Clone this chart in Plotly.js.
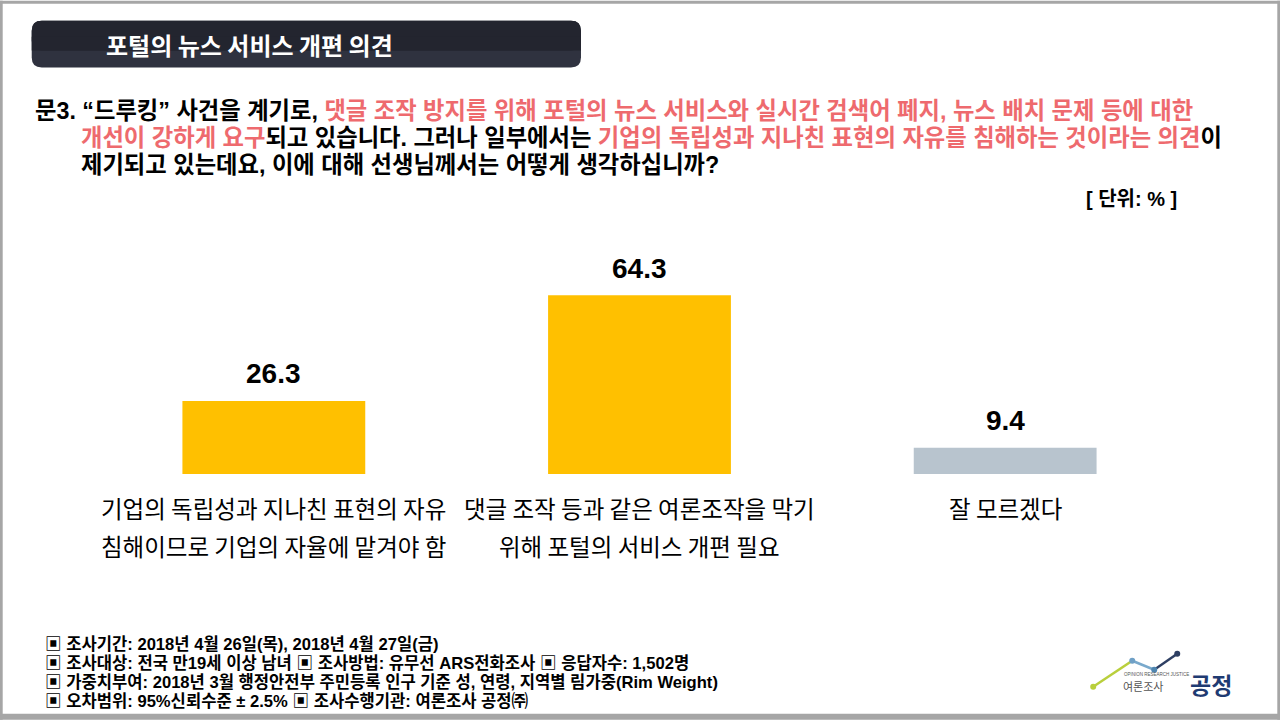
<!DOCTYPE html>
<html><head><meta charset="utf-8">
<script src="https://cdn.plot.ly/plotly-3.0.1.min.js"></script>
<style>html,body{margin:0;padding:0;background:#fff}#chart{width:1280px;height:720px}</style>
</head><body><div id="chart"></div>
<script>
// ---- data ----
const categories = ['기업의 독립성과 지나친 표현의 자유<br>침해이므로 기업의 자율에 맡겨야 함', '댓글 조작 등과 같은 여론조작을 막기<br>위해 포털의 서비스 개편 필요', '잘 모르겠다'];
const values = [26.3, 64.3, 9.4];
const barColors = ['#FFC000', '#FFC000', '#B8C4CE'];
const chartTitle = '포털의 뉴스 서비스 개편 의견';
const unitLabel = '[ 단위: % ]';
const questionLines = [
  [['k','문3. “드루킹” 사건을 계기로, '], ['r','댓글 조작 방지를 위해 포털의 뉴스 서비스와 실시간 검색어 폐지, 뉴스 배치 문제 등에 대한']],
  [['r','개선이 강하게 요구'], ['k','되고 있습니다. 그러나 일부에서는 '], ['r','기업의 독립성과 지나친 표현의 자유를 침해하는 것이라는 의견'], ['k','이']],
  [['k','제기되고 있는데요, 이에 대해 선생님께서는 어떻게 생각하십니까?']]
];
const footerLines = [
  '▣ 조사기간: 2018년 4월 26일(목), 2018년 4월 27일(금)',
  '▣ 조사대상: 전국 만19세 이상 남녀 ▣ 조사방법: 유무선 ARS전화조사 ▣ 응답자수: 1,502명',
  '▣ 가중치부여: 2018년 3월 행정안전부 주민등록 인구 기준 성, 연령, 지역별 림가중(Rim Weight)',
  '▣ 오차범위: 95%신뢰수준 ± 2.5% ▣ 조사수행기관: 여론조사 공정㈜'
];

// ---- geometry helpers (pixel -> paper) ----
const W = 1280, H = 720;
const L = 91.25, R = 1187.75, T = 195.6, B = 474;
const px = x => (x - L) / (R - L);
const py = y => (B - y) / (B - T);
const KR = '"Noto Sans CJK KR", "Noto Sans", sans-serif';
const MIX = '"Liberation Sans", "Noto Sans CJK KR", sans-serif';

const shapes = [];
const annotations = [];

// frame
const frameCol = '#A6A6A6';
[[0,0,W,3],[0,0,3,H],[W-3,0,W,H],[0,H-6,W,H]].forEach(r => shapes.push({type:'rect', xref:'paper', yref:'paper', x0:px(r[0]), x1:px(r[2]), y0:py(r[3]), y1:py(r[1]), fillcolor:frameCol, line:{width:0}, layer:'above'}));

// title box (rounded, two-tone to suggest the gradient)
function roundRect(x0,y0,x1,y1,r){
  const p = (x,y)=> px(x)+','+py(y);
  return 'M'+p(x0+r,y0)+' L'+p(x1-r,y0)+' Q'+p(x1,y0)+' '+p(x1,y0+r)+' L'+p(x1,y1-r)+' Q'+p(x1,y1)+' '+p(x1-r,y1)+' L'+p(x0+r,y1)+' Q'+p(x0,y1)+' '+p(x0,y1-r)+' L'+p(x0,y0+r)+' Q'+p(x0,y0)+' '+p(x0+r,y0)+' Z';
}
shapes.push({type:'path', xref:'paper', yref:'paper', path:roundRect(32,20,581,67,10), fillcolor:'#2F323F', line:{width:0}});
shapes.push({type:'path', xref:'paper', yref:'paper', path:roundRect(32,20,581,50,10), fillcolor:'#23252F', line:{width:0}});
shapes.push({type:'rect', xref:'paper', yref:'paper', x0:px(32), x1:px(581), y0:py(50), y1:py(36), fillcolor:'#23252F', line:{width:0}});
annotations.push({xref:'paper', yref:'paper', x:px(250), y:py(44), xanchor:'center', yanchor:'middle', showarrow:false, text:'<b>'+chartTitle+'</b>', font:{family:KR, size:24, color:'#FFFFFF'}});

// question
const qColors = {k:'#000000', r:'#EE6A6E'};
const qY = [110, 137.5, 165];
const qX = [33, 79, 79];
questionLines.forEach((segs,i)=>{
  const txt = segs.map(s=>'<span style="color:'+qColors[s[0]]+'">'+s[1]+'</span>').join('');
  annotations.push({xref:'paper', yref:'paper', x:px(qX[i]), y:py(qY[i]), xanchor:'left', yanchor:'middle', showarrow:false, text:'<b>'+txt+'</b>', font:{family:MIX, size:23.3, color:'#000'}});
});

// unit
annotations.push({xref:'paper', yref:'paper', x:px(1179), y:py(199), xanchor:'right', yanchor:'middle', showarrow:false, text:'<b>'+unitLabel+'</b>', font:{family:MIX, size:20, color:'#000'}});

// value labels
values.forEach((v,i)=>{
  annotations.push({xref:'x', yref:'y', x:categories[i], y:v, xanchor:'center', yanchor:'middle', yshift:27, showarrow:false, text:'<b>'+v.toFixed(1)+'</b>', font:{family:'"Liberation Sans", Arial, sans-serif', size:28, color:'#000'}});
});

// category labels (two lines each)
categories.forEach((c,i)=>{
  c.split('<br>').forEach((line,j)=>{
    annotations.push({xref:'x', yref:'paper', x:c, y:py(508 + j*38), xanchor:'center', yanchor:'middle', showarrow:false, text:line, font:{family:KR, size:23.5, color:'#000'}});
  });
});

// footer
footerLines.forEach((t,i)=>{
  annotations.push({xref:'paper', yref:'paper', x:px(43), y:py(645 + i*18.8), xanchor:'left', yanchor:'middle', showarrow:false, text:'<b>'+t+'</b>', font:{family:MIX, size:16.6, color:'#000'}});
});

// logo
const lp = [[1093,687],[1132,661],[1154,670],[1177,654]];
const lc = ['#B9CF3C','#79A9CC','#2E3F63'];
for (let i=0;i<3;i++){
  shapes.push({type:'line', xref:'paper', yref:'paper', x0:px(lp[i][0]), y0:py(lp[i][1]), x1:px(lp[i+1][0]), y1:py(lp[i+1][1]), line:{color:lc[i], width:2.5}});
}
const dc = ['#B9CF3C','#6FA0C6','#4F86B0','#2E3F63'];
lp.forEach((p,i)=>{
  shapes.push({type:'circle', xref:'paper', yref:'paper', x0:px(p[0]-3), x1:px(p[0]+3), y0:py(p[1]+3), y1:py(p[1]-3), fillcolor:dc[i], line:{width:0}});
});
annotations.push({xref:'paper', yref:'paper', x:px(1122), y:py(675), xanchor:'left', yanchor:'middle', showarrow:false, text:'OPINION RESEARCH JUSTICE', font:{family:'"Liberation Sans", Arial', size:4.5, color:'#555'}});
annotations.push({xref:'paper', yref:'paper', x:px(1121), y:py(686), xanchor:'left', yanchor:'middle', showarrow:false, text:'여론조사', font:{family:KR, size:11, color:'#555'}});
annotations.push({xref:'paper', yref:'paper', x:px(1188), y:py(684), xanchor:'left', yanchor:'middle', showarrow:false, text:'<b>공정</b>', font:{family:KR, size:23, color:'#1F3B72'}});

const data = [{
  type:'bar', x:categories, y:values, marker:{color:barColors, line:{width:0}}, hoverinfo:'skip', textposition:'none'
}];

const layout = {
  width:W, height:H,
  margin:{l:L, r:W-R, t:T, b:H-B, pad:0},
  paper_bgcolor:'#FFFFFF', plot_bgcolor:'rgba(0,0,0,0)',
  bargap:0.5, showlegend:false,
  xaxis:{type:'category', showticklabels:false, showgrid:false, zeroline:false, showline:false, ticks:'', fixedrange:true},
  yaxis:{range:[0,100], showticklabels:false, showgrid:false, zeroline:false, showline:false, ticks:'', fixedrange:true},
  shapes:shapes, annotations:annotations,
  font:{family:KR}
};
Plotly.newPlot('chart', data, layout, {displayModeBar:false, staticPlot:true});
</script></body></html>
